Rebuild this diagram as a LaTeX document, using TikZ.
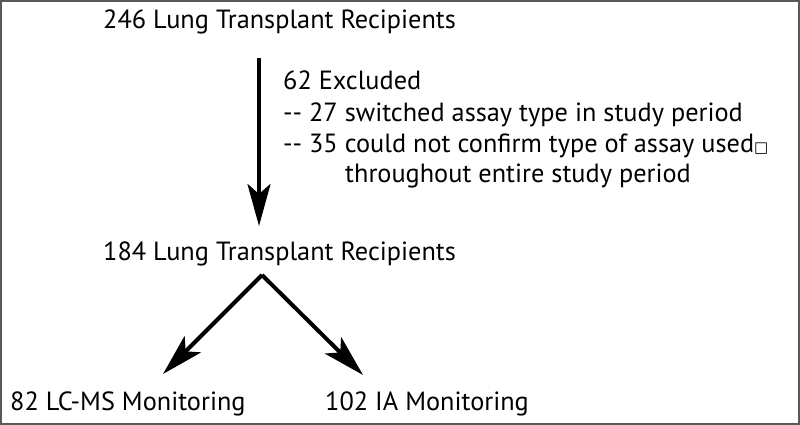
\documentclass[tikz,border=0pt]{standalone}
\usepackage{fontspec}
\setmainfont{PT Sans}
\newfontfamily\symfont{DejaVu Sans}
\usetikzlibrary{arrows.meta}
\begin{document}
\begin{tikzpicture}[x=1pt,y=-1pt,
		lbl/.style={anchor=base west,inner sep=0pt,font=\fontsize{26.3}{31}\selectfont},
		flow/.style={line width=4pt,-{Stealth[length=42pt,width=23pt,inset=10pt]}}]
		% frame
		\draw[line width=2pt,gray!70!black] (1,1) rectangle (799,424);
		\useasboundingbox (0,0) rectangle (800,425);

		% counts
		\node[lbl] (all) at (103,29) {246 Lung Transplant Recipients};
		\node[lbl] (kept) at (103,260) {184 Lung Transplant Recipients};
		\node[lbl] (lcms) at (10,410) {82 LC-MS Monitoring};
		\node[lbl] (ia) at (325,410) {102 IA Monitoring};

		% exclusions
		\node[lbl] (excl) at (283,90) {62 Excluded};
		\node[lbl] (excla) at (283,122) {-{}- 27 switched assay type in study period};
		\node[lbl] (exclb) at (283,153) {-{}- 35 could not confirm type of assay used{\symfont\fontsize{15}{15}\selectfont □}};
		\node[lbl] (exclc) at (345,182) {throughout entire study period};

		% arrows
		\coordinate (top) at (259,58);
		\coordinate (mid) at (259,226);
		\coordinate (fork) at (262,275);
		\coordinate (left) at (163,374);
		\coordinate (right) at (363,375);
		\draw[flow] (top) -- (mid);
		\draw[flow] (fork) -- (left);
		\draw[flow] (fork) -- (right);
	\end{tikzpicture}
\end{document}
